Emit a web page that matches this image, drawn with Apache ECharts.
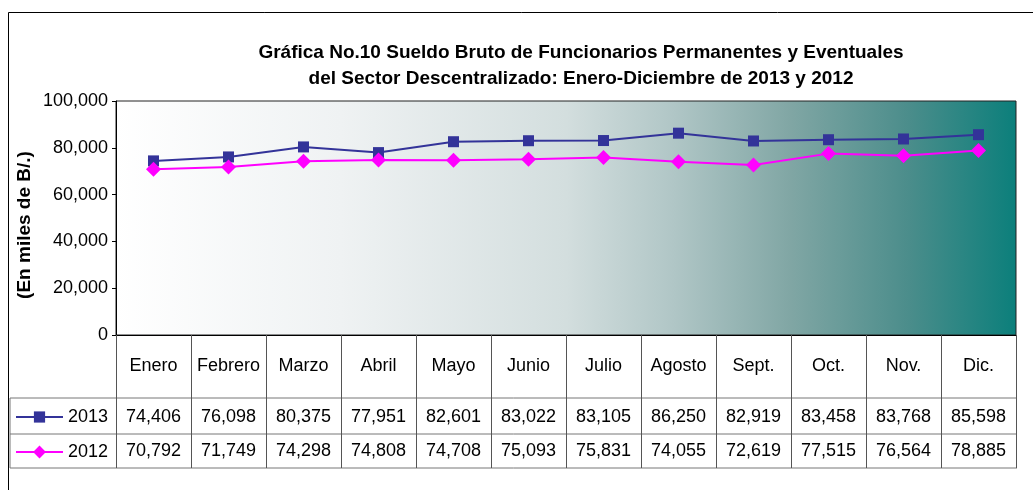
<!DOCTYPE html>
<html>
<head>
<meta charset="utf-8">
<script src="https://cdn.jsdelivr.net/npm/echarts@6/dist/echarts.min.js"></script>
<style>
  html, body { margin: 0; padding: 0; background: #fff; }
  #chart { width: 1033px; height: 490px; }
</style>
</head>
<body>
<div id="chart"></div>
<script>
var months = ['Enero', 'Febrero', 'Marzo', 'Abril', 'Mayo', 'Junio', 'Julio', 'Agosto', 'Sept.', 'Oct.', 'Nov.', 'Dic.'];
var s2013 = [74406, 76098, 80375, 77951, 82601, 83022, 83105, 86250, 82919, 83458, 83768, 85598];
var s2012 = [70792, 71749, 74298, 74808, 74708, 75093, 75831, 74055, 72619, 77515, 76564, 78885];
var titleLines = ['Gráfica No.10 Sueldo Bruto de Funcionarios Permanentes y Eventuales',
                  'del Sector Descentralizado: Enero-Diciembre de 2013 y 2012'];
var yName = '(En miles de B/.)';

var font = 'Liberation Sans, Arial, sans-serif';
var fs = 18;
var fmt = function (v) { return Number(v).toLocaleString('en-US'); };

var chart = echarts.init(document.getElementById('chart'));

// table geometry (below the plot)
var tblL = 10, tblR = 1017, rowY = [398, 434, 468];

function hideAxis(extra) {
  return Object.assign({
    type: 'category',
    data: months,
    gridIndex: 0,
    position: 'bottom',
    axisLine: { show: false },
    axisTick: { show: false },
    splitLine: { show: false }
  }, extra);
}

chart.setOption({
  animation: false,
  title: {
    text: titleLines.join('\n'),
    left: 576,
    top: 35,
    textAlign: 'center',
    textStyle: { fontFamily: font, fontSize: 19, fontWeight: 'bold', color: '#000', lineHeight: 26 }
  },
  legend: [
    {
      data: ['2013'], left: 15, top: 408, padding: 0, itemWidth: 47, itemHeight: 14, itemGap: 5,
      textStyle: { fontFamily: font, fontSize: fs, color: '#000' }
    },
    {
      data: ['2012'], left: 15, top: 443, padding: 0, itemWidth: 47, itemHeight: 16, itemGap: 5,
      textStyle: { fontFamily: font, fontSize: fs, color: '#000' }
    }
  ],
  grid: {
    left: 116, right: 17, top: 101, height: 234,
    show: true,
    borderColor: '#222',
    borderWidth: 1,
    backgroundColor: new echarts.graphic.LinearGradient(0, 0, 1, 0, [
      { offset: 0, color: '#ffffff' },
      { offset: 0.25, color: '#eff2f3' },
      { offset: 0.5, color: '#d3dede' },
      { offset: 0.62, color: '#b0c6c6' },
      { offset: 0.75, color: '#80a6a4' },
      { offset: 0.88, color: '#4b8d8b' },
      { offset: 1, color: '#0b7f7b' }
    ])
  },
  xAxis: [
    {
      type: 'category',
      data: months,
      boundaryGap: true,
      axisLine: { lineStyle: { color: '#000', width: 1 } },
      axisTick: { show: true, interval: 0, length: 133, lineStyle: { color: '#555' } },
      axisLabel: { interval: 0, margin: 31, verticalAlign: 'middle', fontFamily: font, fontSize: fs, color: '#000' },
      splitLine: { show: false }
    },
    hideAxis({
      axisLabel: {
        interval: 0, margin: 82, verticalAlign: 'middle', fontFamily: font, fontSize: fs, color: '#000',
        formatter: function (v, i) { return fmt(s2013[i]); }
      }
    }),
    hideAxis({
      axisLabel: {
        interval: 0, margin: 116, verticalAlign: 'middle', fontFamily: font, fontSize: fs, color: '#000',
        formatter: function (v, i) { return fmt(s2012[i]); }
      }
    })
  ],
  yAxis: {
    type: 'value',
    min: 0, max: 100000, interval: 20000,
    axisLine: { show: true, lineStyle: { color: '#000' } },
    axisTick: { show: true, length: 4, lineStyle: { color: '#000' } },
    axisLabel: { fontFamily: font, fontSize: fs, color: '#000', formatter: fmt },
    splitLine: { show: false }
  },
  series: [
    {
      name: '2013', type: 'line', data: s2013,
      symbol: 'rect', symbolSize: 11,
      itemStyle: { color: '#333399' },
      lineStyle: { color: '#333399', width: 2 }
    },
    {
      name: '2012', type: 'line', data: s2012,
      symbol: 'diamond', symbolSize: 15,
      itemStyle: { color: '#ff00ff' },
      lineStyle: { color: '#ff00ff', width: 2 }
    }
  ],
  graphic: [
    // outer chart-area frame (only top and left are inside the picture)
    { type: 'rect', shape: { x: 8.5, y: 12.5, width: 1200, height: 800 }, style: { fill: null, stroke: '#000', lineWidth: 1 }, silent: true },
    {
      type: 'text', x: 25, y: 225, rotation: Math.PI / 2,
      style: { text: yName, fontFamily: font, fontSize: 19, fontWeight: 'bold', fill: '#000', align: 'center', verticalAlign: 'middle' }
    },
    { type: 'line', shape: { x1: tblL, y1: rowY[0], x2: tblR, y2: rowY[0] }, style: { stroke: '#777', lineWidth: 1 } },
    { type: 'line', shape: { x1: tblL, y1: rowY[1], x2: tblR, y2: rowY[1] }, style: { stroke: '#777', lineWidth: 1 } },
    { type: 'line', shape: { x1: tblL, y1: rowY[2], x2: tblR, y2: rowY[2] }, style: { stroke: '#777', lineWidth: 1 } },
    { type: 'line', shape: { x1: tblL, y1: rowY[0], x2: tblL, y2: rowY[2] }, style: { stroke: '#777', lineWidth: 1 } }
  ]
});
</script>
</body>
</html>
